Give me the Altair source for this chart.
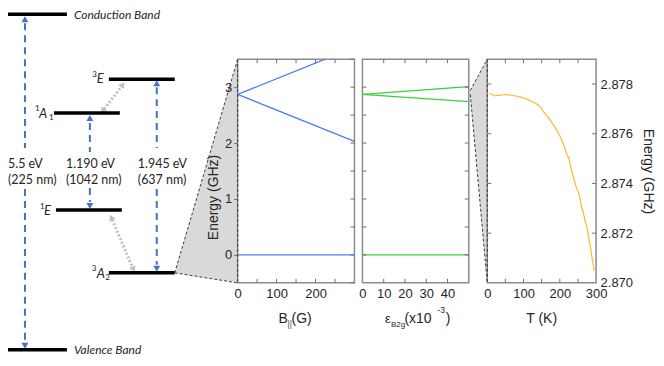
import altair as alt
import pandas as pd

# ---------------- energy-level diagram (schematic units) ----------------
level_x0 = [0, 0, 101, 46, 48, 101]
level_x1 = [59, 59, 167, 112, 114, 167]
level_u = [337, 1, 272, 238, 141, 78]

band_text = ["Conduction Band", "Valence Band"]
band_x = [66, 66]
band_u = [336, 1]

lab_text = ["3", "E", "1", "A", "1", "1", "E", "3", "A", "2"]
lab_x = [84.5, 89, 27, 31, 41, 32, 36, 84, 89, 97.5]
lab_u = [276, 272, 242, 237, 233, 144, 140, 82, 77, 73]
lab_fs = [8, 13, 8, 13, 8, 8, 13, 8, 13, 8]
lab_style = ["normal", "italic", "normal", "italic", "normal",
             "normal", "italic", "normal", "italic", "normal"]

en_text = ["5.5 eV", "(225 nm)", "1.190 eV", "(1042 nm)", "1.945 eV", "(637 nm)"]
en_x = [0, 0, 58, 58, 130, 130]
en_u = [187, 171, 187, 171, 187, 171]

shaft_x = [17, 17, 82, 82, 149, 149]
shaft_u0 = [328, 162, 228, 163, 264, 162]
shaft_u1 = [203, 9, 199, 149, 203, 86]

head_x = [17, 17, 82, 82, 149, 149]
head_u = [332, 5, 233, 145, 268, 82]
head_ang = [0, 180, 0, 180, 0, 180]

isc_x0 = [96.3, 104.4]
isc_u0 = [242.1, 131.2]
isc_x1 = [113.4, 124.6]
isc_u1 = [264.1, 83.8]
isc_hx = [114.9, 94.8, 103.4, 125.6]
isc_hu = [266.5, 240.1, 133.5, 81.5]
isc_ang = [37, 217, 337, 157]

zoom_x = [167, 230]
zoom_top = [78, 292]
zoom_bot = [78, 68]

# ---------------- panel data ----------------
b_field = [0, 300, 0, 225, 0, 300]
b_energy = [0, 0, 2.87, 3.50, 2.87, 2.03]
b_branch = ["0", "0", "+1", "+1", "-1", "-1"]

s_strain = [0, 50, 0, 50, 0, 50]
s_energy = [0, 0, 2.87, 3.01, 2.87, 2.74]
s_branch = ["0", "0", "+1", "+1", "-1", "-1"]

conn_x = [1, 18]
conn_top = [2.94, 3.5]
conn_bot = [2.87, -0.5]

t_vals = [5, 10, 15, 20, 25, 30, 35, 40, 45, 50, 55, 60, 65, 70, 75, 80, 85, 90,
          95, 100, 105, 110, 115, 120, 125, 130, 135, 140, 145, 150, 155, 160,
          165, 170, 175, 180, 185, 190, 195, 200, 205, 210, 215, 220, 225, 230,
          235, 240, 245, 250, 255, 260, 265, 270, 275, 280, 285, 290, 295]
d_vals = [2.87762, 2.87760, 2.87756, 2.87752, 2.87754, 2.87755, 2.87754, 2.87756,
          2.87757, 2.87757, 2.87758, 2.87756, 2.87755, 2.87754, 2.87753, 2.87751,
          2.87750, 2.87747, 2.87746, 2.87744, 2.87741, 2.87739, 2.87735, 2.87731,
          2.87728, 2.87725, 2.87721, 2.87716, 2.87709, 2.87702, 2.87688, 2.87680,
          2.87671, 2.87662, 2.87652, 2.87641, 2.87631, 2.87619, 2.87605, 2.87592,
          2.87575, 2.87558, 2.87536, 2.87513, 2.87503, 2.87466, 2.87438, 2.87412,
          2.87386, 2.87368, 2.87345, 2.87306, 2.87280, 2.87248, 2.87220, 2.87178,
          2.87140, 2.87090, 2.87048]

# ---------------- style ----------------
AXF = "Liberation Sans"
DF = "Lato"
TXT = "#262626"
FRAME = "#8c8c8c"
TICKC = "#6e6e6e"
BLUE = "#4a7ff0"
GREEN = "#3ccf3c"
ORANGE = "#ffb62e"
ARROW = "#4472c4"
GRAYARR = "#c0c0c0"
FILL = "#d9d9d9"
DASH = "#3c3c3c"
H = 224
DW, W1, WS, W2, WC, W3 = 230, 117, 7.5, 106.5, 18, 109

xs = alt.Scale(domain=[0, DW], nice=False, zero=False)
ys = alt.Scale(domain=[68, 292], nice=False, zero=False)


def X(f):
    return alt.X(f, scale=xs, axis=None)


def Y(f):
    return alt.Y(f, scale=ys, axis=None)


zoom_df = pd.DataFrame({"x": zoom_x, "u": zoom_top, "u2": zoom_bot})
zoom_area = alt.Chart(zoom_df).mark_area(color=FILL, opacity=1, orient="vertical").encode(
    x=X("x:Q"), y=Y("u:Q"), y2="u2:Q")
zb_df = pd.DataFrame({"x": [zoom_x[0], zoom_x[0]], "x2": [zoom_x[1], zoom_x[1]],
                      "u": [zoom_top[0], zoom_bot[0]], "u2": [zoom_top[1], zoom_bot[1]]})
zoom_border = alt.Chart(zb_df).mark_rule(color=DASH, strokeWidth=1, strokeDash=[3, 2]).encode(
    x=X("x:Q"), x2="x2:Q", y=Y("u:Q"), y2="u2:Q")

lev_df = pd.DataFrame({"x": level_x0, "x2": level_x1, "u": level_u})
levels = alt.Chart(lev_df).mark_rule(color="black", strokeWidth=3.5).encode(
    x=X("x:Q"), x2="x2:Q", y=Y("u:Q"))

band_df = pd.DataFrame({"x": band_x, "u": band_u, "t": band_text})
bands = alt.Chart(band_df).mark_text(font=DF, fontSize=12, fontStyle="italic", align="left",
                                      baseline="middle", color=TXT).encode(
    x=X("x:Q"), y=Y("u:Q"), text="t:N")

lab_df = pd.DataFrame({"x": lab_x, "u": lab_u, "t": lab_text, "fs": lab_fs, "st": lab_style})
lab_it = alt.Chart(lab_df[lab_df.st == "italic"]).mark_text(
    font=DF, fontStyle="italic", align="left", baseline="middle", color=TXT).encode(
    x=X("x:Q"), y=Y("u:Q"), text="t:N", size=alt.Size("fs:Q", scale=None, legend=None))
lab_nm = alt.Chart(lab_df[lab_df.st == "normal"]).mark_text(
    font=DF, align="left", baseline="middle", color=TXT).encode(
    x=X("x:Q"), y=Y("u:Q"), text="t:N", size=alt.Size("fs:Q", scale=None, legend=None))

en_df = pd.DataFrame({"x": en_x, "u": en_u, "t": en_text})
en_labels = alt.Chart(en_df).mark_text(font=DF, fontSize=12.5, align="left", baseline="middle",
                                        color=TXT).encode(x=X("x:Q"), y=Y("u:Q"), text="t:N")

sh_df = pd.DataFrame({"x": shaft_x, "u": shaft_u0, "u2": shaft_u1})
shafts = alt.Chart(sh_df).mark_rule(color=ARROW, strokeWidth=2, strokeDash=[7, 5]).encode(
    x=X("x:Q"), y=Y("u:Q"), y2="u2:Q")

hd_df = pd.DataFrame({"x": head_x, "u": head_u, "a": head_ang})
heads = alt.Chart(hd_df).mark_point(filled=True, opacity=1, color=ARROW, shape="triangle-up",
                                     size=48).encode(
    x=X("x:Q"), y=Y("u:Q"), angle=alt.Angle("a:Q", scale=None))

isc_df = pd.DataFrame({"x": isc_x0, "x2": isc_x1, "u": isc_u0, "u2": isc_u1})
isc = alt.Chart(isc_df).mark_rule(color=GRAYARR, strokeWidth=3, strokeDash=[2, 2]).encode(
    x=X("x:Q"), x2="x2:Q", y=Y("u:Q"), y2="u2:Q")
isch_df = pd.DataFrame({"x": isc_hx, "u": isc_hu, "a": isc_ang})
isc_heads = alt.Chart(isch_df).mark_point(filled=True, opacity=1, color=GRAYARR,
                                           shape="triangle-up", size=48).encode(
    x=X("x:Q"), y=Y("u:Q"), angle=alt.Angle("a:Q", scale=None))

diagram = alt.layer(zoom_area, zoom_border, shafts, heads, isc, isc_heads, levels,
                    bands, lab_it, lab_nm, en_labels).properties(width=DW, height=H)


# ---------------- helpers for panels ----------------
def xticks(vals, scale, L=4):
    d = pd.DataFrame({"tv": vals})
    base = alt.Chart(d).mark_rule(color=TICKC, strokeWidth=1)
    return [base.encode(x=alt.X("tv:Q", scale=scale, axis=None), y=alt.value(H), y2=alt.value(H - L)),
            base.encode(x=alt.X("tv:Q", scale=scale, axis=None), y=alt.value(0), y2=alt.value(L))]


def yticks(vals, scale, W, left=True, right=True, L=4):
    d = pd.DataFrame({"tv": vals})
    base = alt.Chart(d).mark_rule(color=TICKC, strokeWidth=1)
    out = []
    if left:
        out.append(base.encode(y=alt.Y("tv:Q", scale=scale, axis=None), x=alt.value(0), x2=alt.value(L)))
    if right:
        out.append(base.encode(y=alt.Y("tv:Q", scale=scale, axis=None), x=alt.value(W), x2=alt.value(W - L)))
    return out


def txt(s, x, y, size, align="left", color=TXT):
    return alt.Chart(pd.DataFrame({"t": [s]})).mark_text(
        font=AXF, fontSize=size, align=align, baseline="alphabetic", color=color).encode(
        text="t:N", x=alt.value(x), y=alt.value(y))


def edge_dash():
    return alt.Chart(pd.DataFrame({"a": [0]})).mark_rule(color=DASH, strokeWidth=1, strokeDash=[3, 2]).encode(
        x=alt.value(0), y=alt.value(0), y2=alt.value(H))


frame = alt.ViewBackground(stroke=FRAME, strokeWidth=1.5)
xax = dict(title=None, grid=False, domain=False, ticks=False, labelPadding=5, labelFlush=False)

# panel 1: magnetic field
xs1 = alt.Scale(domain=[0, 300], nice=False, zero=False)
ys1 = alt.Scale(domain=[-0.5, 3.5], nice=False, zero=False)
df1 = pd.DataFrame({"B": b_field, "E": b_energy, "br": b_branch})
l1 = alt.Chart(df1).mark_line(color=BLUE, strokeWidth=1.3).encode(
    x=alt.X("B:Q", scale=xs1, axis=alt.Axis(values=[0, 100, 200], **xax)),
    y=alt.Y("E:Q", scale=ys1, axis=alt.Axis(values=[0, 1, 2, 3], title="Energy (GHz)", grid=False,
                                             domain=False, tickSize=4, tickColor=TICKC,
                                             labelPadding=2, titlePadding=4, titleY=138)),
    detail="br:N")
p1 = alt.layer(
    l1, edge_dash(),
    *xticks([50, 100, 150, 200, 250], xs1),
    *yticks([-0.5, 0, 0.5, 1, 1.5, 2, 2.5, 3, 3.5], ys1, W1, left=False),
    txt("B", 41, 264, 14), txt("||", 50, 268, 8.5, color="#444444"), txt("(G)", 54, 264, 14),
).resolve_axis(x="independent", y="independent").properties(width=W1, height=H, view=frame)

spacer = alt.Chart(pd.DataFrame({"a": [0]})).mark_point(opacity=0).encode(
    x=alt.X("a:Q", axis=None), y=alt.Y("a:Q", axis=None)).properties(width=WS, height=H)

# panel 2: strain
xs2 = alt.Scale(domain=[0, 50], nice=False, zero=False)
ys2 = alt.Scale(domain=[-0.5, 3.5], nice=False, zero=False)
df2 = pd.DataFrame({"S": s_strain, "E": s_energy, "br": s_branch})
l2 = alt.Chart(df2).mark_line(color=GREEN, strokeWidth=1.3).encode(
    x=alt.X("S:Q", scale=xs2, axis=alt.Axis(values=[0, 10, 20, 30, 40], **xax)),
    y=alt.Y("E:Q", scale=ys2, axis=None),
    detail="br:N")
p2 = alt.layer(
    l2,
    *xticks([10, 20, 30, 40], xs2),
    *yticks([0, 0.5, 1, 1.5, 2, 2.5, 3], ys2, W2),
    txt("\u03b5", 22.5, 264, 13), txt("B2g", 28.5, 268, 8), txt("(x10", 42, 264, 14),
    txt("-3", 75, 254, 8.5), txt(")", 83.5, 264, 14),
).resolve_axis(x="independent", y="independent").properties(width=W2, height=H, view=frame)

# connector between strain and temperature panels
xsc = alt.Scale(domain=[0, WC], nice=False, zero=False)
cdf = pd.DataFrame({"x": conn_x, "u": conn_top, "u2": conn_bot})
c_area = alt.Chart(cdf).mark_area(color=FILL, opacity=1, orient="vertical").encode(
    x=alt.X("x:Q", scale=xsc, axis=None), y=alt.Y("u:Q", scale=ys2, axis=None), y2="u2:Q")
cb_df = pd.DataFrame({"x": [conn_x[0], conn_x[0]], "x2": [conn_x[1], conn_x[1]],
                      "u": [conn_top[0], conn_bot[0]], "u2": [conn_top[1], conn_bot[1]]})
c_border = alt.Chart(cb_df).mark_rule(color=DASH, strokeWidth=1, strokeDash=[3, 2]).encode(
    x=alt.X("x:Q", scale=xsc, axis=None), x2="x2:Q",
    y=alt.Y("u:Q", scale=ys2, axis=None), y2="u2:Q")
conn = alt.layer(c_area, c_border).properties(width=WC, height=H)

# panel 3: temperature
xs3 = alt.Scale(domain=[0, 300], nice=False, zero=False)
ys3 = alt.Scale(domain=[2.870, 2.879], nice=False, zero=False)
df3 = pd.DataFrame({"T": t_vals, "E": d_vals})
l3 = alt.Chart(df3).mark_line(color=ORANGE, strokeWidth=1.2).encode(
    x=alt.X("T:Q", scale=xs3, axis=alt.Axis(values=[0, 100, 200, 300], **xax)),
    y=alt.Y("E:Q", scale=ys3, axis=alt.Axis(orient="right", values=[2.870, 2.872, 2.874, 2.876, 2.878],
                                             format=".3f", title="Energy (GHz)", titleAngle=90,
                                             grid=False, domain=False, ticks=False,
                                             labelPadding=4, titlePadding=8)))
p3 = alt.layer(
    l3, edge_dash(),
    *xticks([50, 100, 150, 200, 250], xs3),
    *yticks([2.872, 2.874, 2.876, 2.878], ys3, W3),
    txt("T (K)", W3 / 2, 264, 14, align="center"),
).resolve_axis(x="independent", y="independent").properties(width=W3, height=H, view=frame)

chart = alt.hconcat(diagram, p1, spacer, p2, conn, p3, spacing=0, bounds="flush",
                    padding={"left": -3, "top": 0, "right": 0, "bottom": 0}).configure_view(
    stroke="transparent"
).configure_axis(
    labelFont=AXF, labelFontSize=13, labelColor=TXT, titleFont=AXF, titleFontSize=14,
    titleFontWeight="normal", titleColor=TXT
)

chart.save("out.html", embed_options={"renderer": "svg", "actions": False})
